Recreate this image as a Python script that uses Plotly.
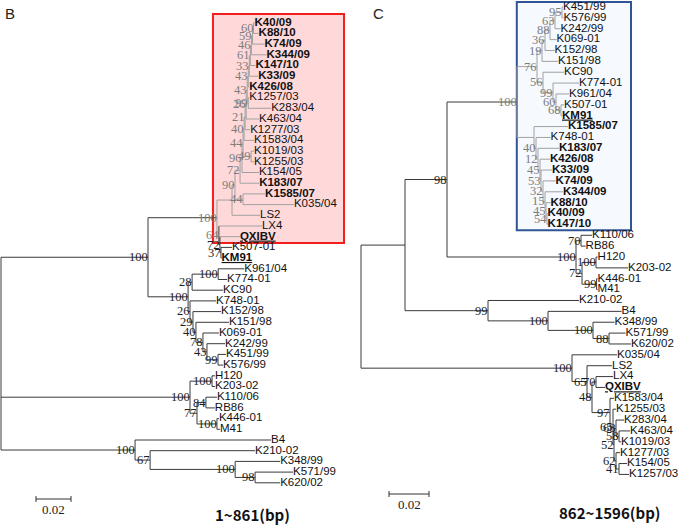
import plotly.graph_objects as go

# ---------------- data: panel B (1~861 bp) ----------------
B_NODE = ["root", "n148", "n100", "nLS", "n90", "n72", "n96", "n44", "n40", "n21",
          "n26", "n43b", "n43a", "n33", "n61", "n46", "n59", "n60", "K40/09", "K88/10",
          "K74/09", "K344/09", "K147/10", "K33/09", "K426/08", "n99", "K1257/03", "K283/04", "K463/04", "K1277/03",
          "K1583/04", "n49", "K1019/03", "K1255/03", "K154/05", "K183/07", "n44b", "K1585/07", "K035/04", "LS2",
          "n64", "LX4", "nQ", "QXIBV", "nF", "K507-01", "KM91", "n188", "n192", "n218",
          "K961/04", "K774-01", "KC90", "nX", "K748-01", "nY", "K152/98", "nZ", "K151/98", "nW",
          "K069-01", "nV", "K242/99", "nU", "K451/99", "K576/99", "nHg", "nH", "H120", "K203-02",
          "n197", "n206", "K110/06", "RB86", "n217", "K446-01", "M41", "n135", "B4", "n150",
          "K210-02", "n235", "K348/99", "n255", "K571/99", "K620/02"]
B_PARENT = [None, "root", "n148", "n100", "nLS", "n90", "n72", "n96", "n44", "n40",
            "n21", "n26", "n43b", "n43a", "n33", "n61", "n46", "n59", "n60", "n60",
            "n59", "n46", "n61", "n33", "n43a", "n43b", "n99", "n99", "n26", "n21",
            "n40", "n44", "n49", "n49", "n96", "n72", "n90", "n44b", "n44b", "nLS",
            "n100", "n64", "n64", "nQ", "nQ", "nF", "nF", "n148", "n188", "n192",
            "n218", "n218", "n192", "n188", "nX", "nX", "nY", "nY", "nZ", "nZ",
            "nW", "nW", "nV", "nV", "nU", "nU", "root", "nHg", "nH", "nH",
            "nHg", "n197", "n206", "n206", "n197", "n217", "n217", "root", "n135", "n135",
            "n150", "n150", "n235", "n235", "n255", "n255"]
B_LENGTH = [0.0, 0.0840, 0.0394, 0.0086, 0.0017, 0.0029, 0.0011, 0.0006, 0.0006, 0.0006,
            0.0006, 0.0006, 0.0006, 0.0006, 0.0006, 0.0006, 0.0006, 0.0006, 0.0006, 0.0029,
            0.0069, 0.0086, 0.0029, 0.0051, 0.0006, 0.0006, 0.0006, 0.0131, 0.0074, 0.0029,
            0.0057, 0.0046, 0.0017, 0.0017, 0.0097, 0.0109, 0.0046, 0.0126, 0.0291, 0.0160,
            0.0011, 0.0246, 0.0006, 0.0114, 0.0006, 0.0063, 0.0003, 0.0229, 0.0023, 0.0149,
            0.0149, 0.0051, 0.0177, 0.0011, 0.0149, 0.0017, 0.0160, 0.0017, 0.0189, 0.0040,
            0.0091, 0.0023, 0.0103, 0.0063, 0.0046, 0.0029, 0.1080, 0.0126, 0.0017, 0.0017,
            0.0040, 0.0051, 0.0063, 0.0051, 0.0114, 0.0011, 0.0017, 0.0766, 0.0777, 0.0086,
            0.0600, 0.0486, 0.0257, 0.0114, 0.0217, 0.0143]
B_SUPPORT = ["", "100", "100", "", "90", "72", "96", "44", "40", "21",
             "26", "43", "43", "33", "61", "46", "59", "60", "", "",
             "", "", "", "", "", "99", "", "", "", "",
             "", "49", "", "", "", "", "44", "", "", "",
             "64", "", "72", "", "37", "", "", "100", "28", "100",
             "", "", "", "26", "", "29", "", "40", "", "78",
             "", "43", "", "99", "", "", "100", "100", "", "",
             "77", "84", "", "", "100", "", "", "100", "", "67",
             "", "100", "", "98", "", ""]

# ---------------- data: panel C (862~1596 bp) ----------------
C_NODE = ["root", "n405", "n447", "n517", "nU", "n19", "n36", "n88", "n63", "n95",
          "K451/99", "K576/99", "K242/99", "K069-01", "K152/98", "K151/98", "n56", "KC90", "nX", "K774-01",
          "nY", "K961/04", "nZ", "K507-01", "KM91", "nL1", "K1585/07", "nL2", "K748-01", "nL3",
          "K183/07", "nL4", "K426/08", "nL5", "K33/09", "nL6", "K74/09", "nL7", "K344/09", "nL8",
          "K88/10", "nL9", "K40/09", "K147/10", "nHC", "n581", "K110/06", "RB86", "nX2", "nH",
          "H120", "K203-02", "n597", "K446-01", "M41", "n488", "K210-02", "n548", "B4", "n593",
          "K348/99", "n609", "K571/99", "K620/02", "n572", "K035/04", "nL", "LS2", "nM", "n596",
          "LX4", "QXIBV", "nK", "K1583/04", "nJ", "K1255/03", "nI", "nF", "K283/04", "nF2",
          "K463/04", "K1019/03", "nE", "K1277/03", "nD", "K154/05", "K1257/03"]
C_PARENT = [None, "root", "n405", "n447", "n517", "nU", "n19", "n36", "n88", "n63",
            "n95", "n95", "n63", "n88", "n36", "n19", "nU", "n56", "n56", "nX",
            "nX", "nY", "nY", "nZ", "nZ", "n517", "nL1", "nL1", "nL2", "nL2",
            "nL3", "nL3", "nL4", "nL4", "nL5", "nL5", "nL6", "nL6", "nL7", "nL7",
            "nL8", "nL8", "nL9", "nL9", "n447", "nHC", "n581", "n581", "nHC", "nX2",
            "nH", "nH", "nX2", "n597", "n597", "n405", "n488", "n488", "n548", "n548",
            "n593", "n593", "n609", "n609", "root", "n572", "n572", "nL", "nL", "nM",
            "n596", "n596", "nM", "nK", "nK", "nJ", "nJ", "nI", "nF", "nF",
            "nF2", "nF2", "nI", "nE", "nE", "nD", "nD"]
C_LENGTH = [0.0, 0.0220, 0.0210, 0.0350, 0.0100, 0.0025, 0.0015, 0.0025, 0.0025, 0.0035,
            0.0005, 0.0008, 0.0028, 0.0033, 0.0048, 0.0080, 0.0030, 0.0105, 0.0050, 0.0130,
            0.0015, 0.0065, 0.0025, 0.0015, 0.0005, 0.0085, 0.0170, 0.0010, 0.0073, 0.0010,
            0.0105, 0.0010, 0.0050, 0.0005, 0.0055, 0.0010, 0.0063, 0.0010, 0.0090, 0.0005,
            0.0023, 0.0005, 0.0003, 0.0003, 0.0645, 0.0025, 0.0055, 0.0023, 0.0030, 0.0070,
            0.0008, 0.0160, 0.0073, 0.0005, 0.0005, 0.0415, 0.0455, 0.0300, 0.0368, 0.0225,
            0.0108, 0.0080, 0.0083, 0.0110, 0.1055, 0.0225, 0.0075, 0.0125, 0.0025, 0.0020,
            0.0085, 0.0045, 0.0090, 0.0020, 0.0015, 0.0015, 0.0005, 0.0010, 0.0040, 0.0015,
            0.0055, 0.0010, 0.0010, 0.0020, 0.0015, 0.0040, 0.0050]
C_SUPPORT = ["", "", "98", "100", "76", "19", "36", "88", "63", "95",
             "", "", "", "", "", "", "56", "", "99", "",
             "60", "", "68", "", "", "", "", "40", "", "12",
             "", "45", "", "53", "", "32", "", "15", "", "45",
             "", "54", "", "", "100", "70", "", "", "72", "100",
             "", "", "99", "", "", "99", "", "100", "", "100",
             "", "88", "", "", "100", "", "65", "", "48", "70",
             "", "", "97", "", "65", "", "52", "68", "", "58",
             "", "", "62", "", "41", "", ""]

BOLD_STRAINS = ["K40/09", "K88/10", "K74/09", "K344/09", "K147/10", "K33/09", "K426/08",
                "K183/07", "K1585/07", "QXIBV", "KM91"]
UNDERLINED_STRAINS = ["QXIBV", "KM91"]
PANEL_LETTERS = ["B", "C"]
PANEL_TITLES = ["1~861(bp)", "862~1596(bp)"]
SCALE_BAR = 0.02

for lst in (B_PARENT, B_LENGTH, B_SUPPORT):
    assert len(lst) == len(B_NODE)
for lst in (C_PARENT, C_LENGTH, C_SUPPORT):
    assert len(lst) == len(C_NODE)

W, H = 678, 525


def layout_tree(nodes, parents, lengths):
    children = {n: [] for n in nodes}
    for n, p in zip(nodes, parents):
        if p is not None:
            children[p].append(n)
    length = dict(zip(nodes, lengths))
    root = nodes[parents.index(None)]
    x, y, leaves = {}, {}, []

    def walk(n, d):
        x[n] = d
        for c in children[n]:
            walk(c, d + length[c])
        if children[n]:
            y[n] = (y[children[n][0]] + y[children[n][-1]]) / 2
        else:
            leaves.append(n)
            y[n] = len(leaves)

    walk(root, 0.0)
    return children, x, y, leaves, root


panels = [
    dict(nodes=B_NODE, parents=B_PARENT, lengths=B_LENGTH, support=B_SUPPORT,
         xa="x", ya="y", dom=(0, 360), ppu=1750.0, root_px=1.0, leaf0=22.7, step=10.7,
         box_first="K40/09", box_last="QXIBV", box_left_node="n100", box_pad_left=4,
         box_color="#f21d1d", box_fill="rgba(255,0,0,0.15)",
         box_right_px=344, box_pad_top=8.7, box_pad_bot=6.3,
         bar_start=0.02, bar_px_y=499, letter_px=(10, 14), title_px=(252, 514)),
    dict(nodes=C_NODE, parents=C_PARENT, lengths=C_LENGTH, support=C_SUPPORT,
         xa="x2", ya="y2", dom=(360, 678), ppu=2000.0, root_px=1.0, leaf0=7.0, step=10.87,
         box_first="K451/99", box_last="K147/10", box_left_node="n517", box_pad_left=0.2,
         box_color="#2f5597", box_fill="rgba(215,228,250,0.22)",
         box_right_px=631 - 360, box_pad_top=5.0, box_pad_bot=5.8,
         bar_start=0.014, bar_px_y=494, letter_px=(378, 14), title_px=(609, 512)),
]

fig = go.Figure()
shapes, annotations = [], []
layout_axes = {}

for i, P in enumerate(panels):
    children, x, y, leaves, root = layout_tree(P["nodes"], P["parents"], P["lengths"])
    parent = dict(zip(P["nodes"], P["parents"]))
    support = dict(zip(P["nodes"], P["support"]))
    ppu = P["ppu"]
    dom_px = P["dom"][1] - P["dom"][0]
    xr = [-P["root_px"] / ppu, (dom_px - P["root_px"]) / ppu]
    y_top = 1 - P["leaf0"] / P["step"]
    yr = [y_top + H / P["step"], y_top]
    px_y = 1.0 / P["step"]  # one pixel in y-index units
    px_x = 1.0 / ppu

    # highlight box geometry (derived from the boxed leaves)
    bx0 = x[P["box_left_node"]] - P["box_pad_left"] * px_x
    bx1 = (P["box_right_px"] - P["root_px"]) * px_x
    by0 = y[P["box_first"]] - P["box_pad_top"] * px_y
    by1 = y[P["box_last"]] + P["box_pad_bot"] * px_y

    def in_box(xv, yv):
        return bx0 <= xv <= bx1 and by0 <= yv <= by1

    # branch lines
    dark_x, dark_y, grey_x, grey_y = [], [], [], []
    for n in P["nodes"]:
        p = parent[n]
        if p is not None:
            g = in_box(x[p], y[n])
            tx, ty = (grey_x, grey_y) if g else (dark_x, dark_y)
            tx += [x[p], x[n], None]
            ty += [y[n], y[n], None]
        if children[n]:
            ya_, yb_ = y[children[n][0]], y[children[n][-1]]
            g = in_box(x[n], ya_) and in_box(x[n], yb_)
            tx, ty = (grey_x, grey_y) if g else (dark_x, dark_y)
            tx += [x[n], x[n], None]
            ty += [ya_, yb_, None]
    fig.add_trace(go.Scatter(x=dark_x, y=dark_y, mode="lines", xaxis=P["xa"], yaxis=P["ya"],
                             line=dict(color="#3a3a3a", width=1), hoverinfo="skip",
                             showlegend=False, cliponaxis=False))
    fig.add_trace(go.Scatter(x=grey_x, y=grey_y, mode="lines", xaxis=P["xa"], yaxis=P["ya"],
                             line=dict(color="#a0a0a0", width=1), hoverinfo="skip",
                             showlegend=False, cliponaxis=False))

    # leaf labels
    texts = []
    for l in leaves:
        t = l
        if l in UNDERLINED_STRAINS:
            t = "<u>" + t + "</u>"
        if l in BOLD_STRAINS:
            t = "<b>" + t + "</b>"
        texts.append(t)
    fig.add_trace(go.Scatter(x=[x[l] for l in leaves], y=[y[l] for l in leaves], text=texts,
                             mode="text", textposition="middle right", xaxis=P["xa"], yaxis=P["ya"],
                             textfont=dict(family="Liberation Sans, Arial", size=11.5, color="#111"),
                             hoverinfo="skip", showlegend=False, cliponaxis=False))

    # bootstrap labels: right-aligned just left of each node
    for n in P["nodes"]:
        if support[n]:
            col = "#7d7d7d" if in_box(x[n], y[n]) else "#1e1e1e"
            annotations.append(dict(xref=P["xa"], yref=P["ya"], x=x[n] + 1 * px_x, y=y[n],
                                    text=support[n], showarrow=False, xanchor="right", yanchor="middle",
                                    borderpad=0, font=dict(family="Liberation Serif, Times New Roman",
                                                          size=12.5, color=col)))

    shapes.append(dict(type="rect", xref=P["xa"], yref=P["ya"], layer="below",
                       x0=bx0, x1=bx1, y0=by0, y1=by1,
                       line=dict(color=P["box_color"], width=2), fillcolor=P["box_fill"]))

    # scale bar
    by = y_top + P["bar_px_y"] / P["step"]
    x0b, x1b = P["bar_start"], P["bar_start"] + SCALE_BAR
    shapes.append(dict(type="line", xref=P["xa"], yref=P["ya"], x0=x0b, x1=x1b, y0=by, y1=by,
                       line=dict(color="#333", width=1)))
    for xb in (x0b, x1b):
        shapes.append(dict(type="line", xref=P["xa"], yref=P["ya"], x0=xb, x1=xb,
                           y0=by - 3 * px_y, y1=by + 3 * px_y, line=dict(color="#333", width=1)))
    annotations.append(dict(xref=P["xa"], yref=P["ya"], x=(x0b + x1b) / 2, y=by + 10 * px_y,
                            text=f"{SCALE_BAR:.2f}", showarrow=False, xanchor="center", yanchor="middle",
                            font=dict(family="Liberation Serif, Times New Roman", size=13, color="#222")))

    # panel letter & title
    lx, ly = P["letter_px"]
    annotations.append(dict(xref="paper", yref="paper", x=lx / W, y=1 - ly / H, text=PANEL_LETTERS[i],
                            showarrow=False, xanchor="center", yanchor="middle",
                            font=dict(family="Liberation Sans, Arial", size=15, color="#222")))
    tx_, ty_ = P["title_px"]
    annotations.append(dict(xref="paper", yref="paper", x=tx_ / W, y=1 - ty_ / H,
                            text="<b>" + PANEL_TITLES[i] + "</b>",
                            showarrow=False, xanchor="center", yanchor="middle",
                            font=dict(family="Noto Sans CJK KR, Liberation Sans", size=15, color="#111")))

    xkey = "xaxis" if P["xa"] == "x" else "xaxis2"
    ykey = "yaxis" if P["ya"] == "y" else "yaxis2"
    layout_axes[xkey] = dict(domain=[P["dom"][0] / W, P["dom"][1] / W], range=xr, visible=False,
                             anchor=P["ya"], fixedrange=True)
    layout_axes[ykey] = dict(domain=[0, 1], range=yr, visible=False, anchor=P["xa"], fixedrange=True)

fig.update_layout(width=W, height=H, margin=dict(l=0, r=0, t=0, b=0),
                  paper_bgcolor="white", plot_bgcolor="white",
                  shapes=shapes, annotations=annotations, showlegend=False, **layout_axes)

fig.write_html("out.html", config={"displayModeBar": False},
               post_script="document.body.style.margin='0px';document.body.style.overflow='hidden';")
